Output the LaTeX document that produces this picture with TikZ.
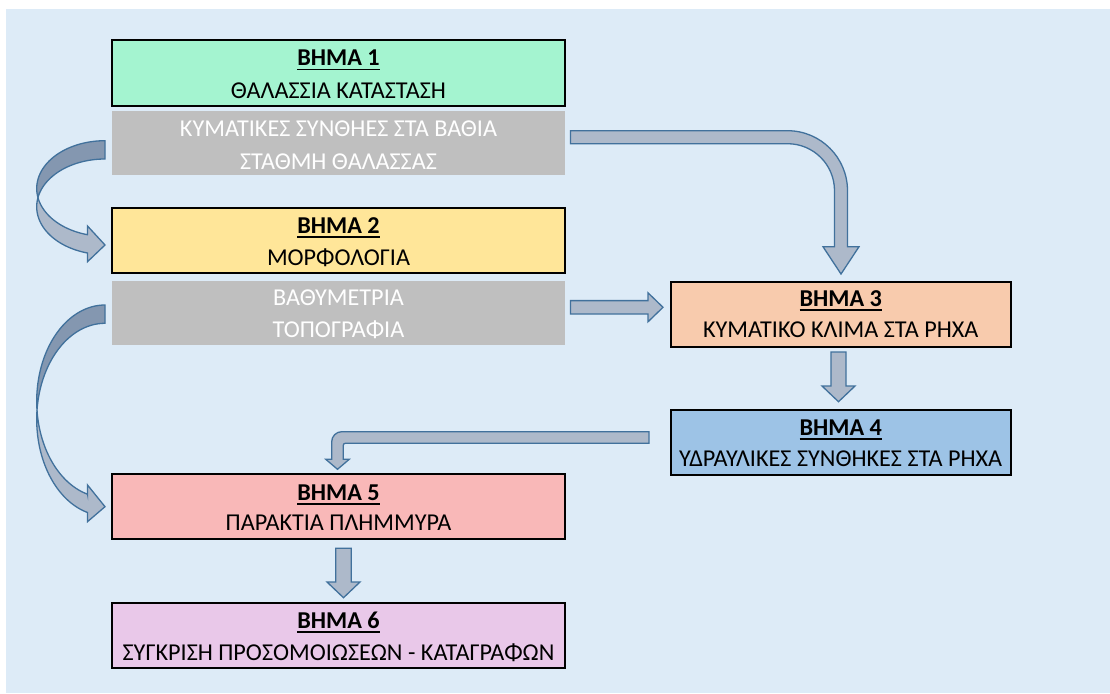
\documentclass[tikz,border=0pt]{standalone}
\usepackage{fontspec}
\setmainfont{Carlito}
\usetikzlibrary{calc}
\definecolor{bgc}{HTML}{DDEBF7}
\definecolor{c1}{HTML}{A4F4D0}
\definecolor{c2}{HTML}{FFE699}
\definecolor{c3}{HTML}{F8CBAD}
\definecolor{c4}{HTML}{9DC3E6}
\definecolor{c5}{HTML}{F9B8B8}
\definecolor{c6}{HTML}{E9C8E9}
\definecolor{grayc}{HTML}{BFBFBF}
\definecolor{arrfill}{HTML}{ADB9CA}
\definecolor{arrdark}{HTML}{8497B0}
\definecolor{arrline}{HTML}{41719C}
\newcommand\stepul[1]{\setbox0\hbox{#1}\rlap{\rule[-4.8pt]{\wd0}{1.7pt}}\box0}
\newcommand\downblock[5]{%
  \draw[blockarrow] let \p1=(#1), \p2=(#2) in
  (\x1-#3pt,\y1) -- (\x1+#3pt,\y1) -- (\x1+#3pt,\y2+#5pt) -- (\x1+#4pt,\y2+#5pt)
  -- (\x1,\y2) -- (\x1-#4pt,\y2+#5pt) -- (\x1-#3pt,\y2+#5pt) -- cycle;}
\newcommand\rightblock[5]{%
  \draw[blockarrow] let \p1=(#1), \p2=(#2) in
  (\x1,\y1+#3pt) -- (\x2-#5pt,\y1+#3pt) -- (\x2-#5pt,\y1+#4pt) -- (\x2,\y1)
  -- (\x2-#5pt,\y1-#4pt) -- (\x2-#5pt,\y1-#3pt) -- (\x1,\y1-#3pt) -- cycle;}
\tikzset{
  stepbox/.style={draw=black, line width=2pt, minimum width=453pt, minimum height=65pt, inner sep=0pt, outer sep=0pt, anchor=north},
  rightbox/.style={stepbox, minimum width=340pt},
  graybox/.style={fill=grayc, minimum width=453pt, minimum height=64pt, inner sep=0pt, outer sep=0pt, anchor=north},
  titletext/.style={anchor=base, inner sep=0pt, font=\fontsize{24.2}{28}\selectfont\bfseries},
  bodytext/.style={anchor=base, inner sep=0pt, font=\fontsize{24.2}{28}\selectfont},
  graytext/.style={bodytext, text=white},
  blockarrow/.style={fill=arrfill, draw=arrline, line width=1.3pt, line join=miter},
  darkarrow/.style={blockarrow, fill=arrdark}
}
\begin{document}
\begin{tikzpicture}[x=1pt,y=-1pt]
\useasboundingbox (0,0) rectangle (1110,693);
\fill[bgc] (6,9) rectangle (1110,693);

% boxes
\node[stepbox, fill=c1] (b1) at (338.5,40.5) {};
\node[graybox] (g1) at (338.5,111) {};
\node[stepbox, fill=c2] (b2) at (338.5,207.5) {};
\node[graybox] (g2) at (338.5,281) {};
\node[rightbox, fill=c3] (b3) at (840.7,282) {};
\node[rightbox, fill=c4] (b4) at (840.7,409.5) {};
\node[stepbox, fill=c5] (b5) at (338.5,473.5) {};
\node[stepbox, fill=c6] (b6) at (338.5,602.5) {};

% texts
\node[titletext] (b1t) at ($(b1.north)+(0,25)$) {\stepul{ΒΗΜΑ 1}};
\node[bodytext] (b1l) at ($(b1.north)+(0,57.5)$) {ΘΑΛΑΣΣΙΑ ΚΑΤΑΣΤΑΣΗ};
\node[graytext] (g1a) at ($(g1.north)+(0,25)$) {ΚΥΜΑΤΙΚΕΣ ΣΥΝΘΗΕΣ ΣΤΑ ΒΑΘΙΑ};
\node[graytext] (g1b) at ($(g1.north)+(0,58)$) {ΣΤΑΘΜΗ ΘΑΛΑΣΣΑΣ};
\node[titletext] (b2t) at ($(b2.north)+(0,25.5)$) {\stepul{ΒΗΜΑ 2}};
\node[bodytext] (b2l) at ($(b2.north)+(0,57.5)$) {ΜΟΡΦΟΛΟΓΙΑ};
\node[graytext] (g2a) at ($(g2.north)+(0,24.7)$) {ΒΑΘΥΜΕΤΡΙΑ};
\node[graytext] (g2b) at ($(g2.north)+(0,56.7)$) {ΤΟΠΟΓΡΑΦΙΑ};
\node[titletext] (b3t) at ($(b3.north)+(0,24)$) {\stepul{ΒΗΜΑ 3}};
\node[bodytext] (b3l) at ($(b3.north)+(0,55.5)$) {ΚΥΜΑΤΙΚΟ ΚΛΙΜΑ ΣΤΑ ΡΗΧΑ};
\node[titletext] (b4t) at ($(b4.north)+(0,25.5)$) {\stepul{ΒΗΜΑ 4}};
\node[bodytext] (b4l) at ($(b4.north)+(0,57.2)$) {ΥΔΡΑΥΛΙΚΕΣ ΣΥΝΘΗΚΕΣ ΣΤΑ ΡΗΧΑ};
\node[titletext] (b5t) at ($(b5.north)+(0,26.5)$) {\stepul{ΒΗΜΑ 5}};
\node[bodytext] (b5l) at ($(b5.north)+(0,57.2)$) {ΠΑΡΑΚΤΙΑ ΠΛΗΜΜΥΡΑ};
\node[titletext] (b6t) at ($(b6.north)+(0,25.8)$) {\stepul{ΒΗΜΑ 6}};
\node[bodytext] (b6l) at ($(b6.north)+(0,57.5)$) {ΣΥΓΚΡΙΣΗ ΠΡΟΣΟΜΟΙΩΣΕΩΝ - ΚΑΤΑΓΡΑΦΩΝ};

% straight block arrows
\coordinate (a3s) at (570.5,307.3);
\coordinate (a3e) at (663,307.3);
\rightblock{a3s}{a3e}{6.7}{14.5}{15}
\coordinate (a4s) at (838.5,352);
\coordinate (a4e) at (838.5,401.7);
\downblock{a4s}{a4e}{7.5}{16.5}{15.7}
\coordinate (a6s) at (343.5,548.3);
\coordinate (a6e) at (343.5,597.7);
\downblock{a6s}{a6e}{7.8}{16.5}{15.7}

% bent arrow g1 -> b3
\coordinate (a2s) at (570.5,137.2);
\coordinate (a2e) at (841,274);
\draw[blockarrow] (570.5,130.7) -- (787.5,130.7)
  .. controls (820.6,130.7) and (847.5,157.6) .. (847.5,190.7)
  -- (847.5,246.7) -- (859,246.7) -- (a2e) -- (823,246.7) -- (834.5,246.7) -- (834.5,190.7)
  .. controls (834.5,164.7) and (813.5,143.7) .. (787.5,143.7)
  -- (570.5,143.7) -- cycle;

% bent arrow b4 -> b5
\coordinate (a5e) at (337.5,469.3);
\draw[blockarrow] (649,431.7) -- (341.7,431.7)
  .. controls (336.2,431.7) and (331.7,436.2) .. (331.7,441.7)
  -- (331.7,459.3) -- (325.8,459.3) -- (a5e) -- (349.2,459.3) -- (343.3,459.3) -- (343.3,445.3)
  .. controls (343.3,444.2) and (344.2,443.3) .. (345.3,443.3)
  -- (649,443.3) -- cycle;

% curved arrow g1 -> b2
\draw[darkarrow] plot[domain=270:168.96, samples=40, variable=\t] ({105+68.3*cos(\t)},{188.5+47.8*sin(\t)})
  -- plot[domain=191.04:270, samples=40, variable=\t] ({105+68.3*cos(\t)},{206.8+47.8*sin(\t)}) -- cycle;
\draw[blockarrow] plot[domain=191.04:104.85, samples=40, variable=\t] ({105+68.3*cos(\t)},{206.8+47.8*sin(\t)})
  -- (87.5,261.7) -- (105,245) -- (87.5,226) -- (87.5,234.7)
  -- plot[domain=104.85:168.96, samples=40, variable=\t] ({105+68.3*cos(\t)},{188.5+47.8*sin(\t)}) -- cycle;

% curved arrow g2 -> b5
\draw[darkarrow] plot[domain=270:174.54, samples=60, variable=\t] ({105+68.3*cos(\t)},{401.2+96.2*sin(\t)})
  -- plot[domain=185.46:270, samples=60, variable=\t] ({105+68.3*cos(\t)},{419.5+96.2*sin(\t)}) -- cycle;
\draw[blockarrow] plot[domain=185.46:104.85, samples=60, variable=\t] ({105+68.3*cos(\t)},{419.5+96.2*sin(\t)})
  -- (87.5,521.7) -- (105,506.7) -- (87.5,485) -- (87.5,494.2)
  -- plot[domain=104.85:174.54, samples=60, variable=\t] ({105+68.3*cos(\t)},{401.2+96.2*sin(\t)}) -- cycle;
\end{tikzpicture}
\end{document}
